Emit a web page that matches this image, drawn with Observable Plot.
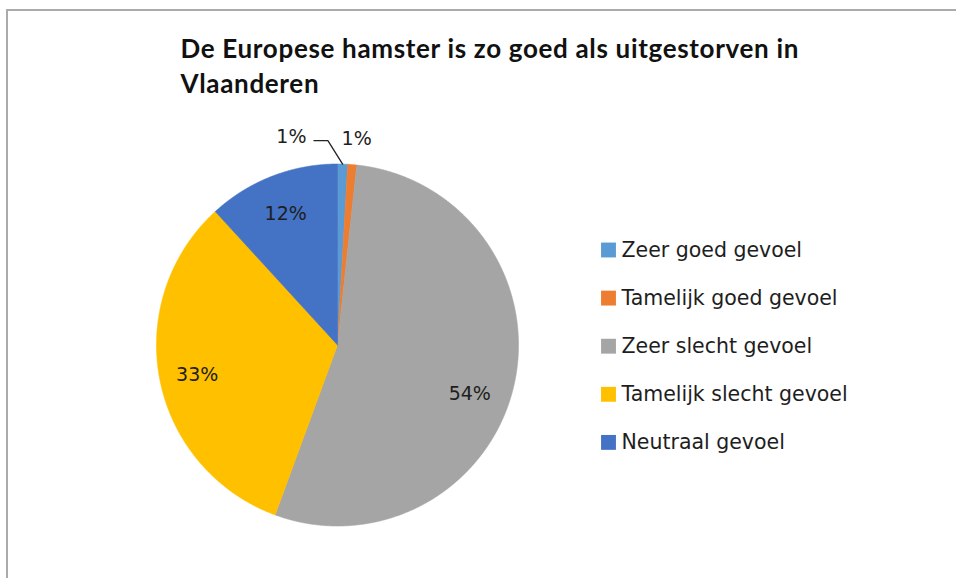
<!DOCTYPE html>
<html><head><meta charset="utf-8">
<script src="https://cdn.jsdelivr.net/npm/d3@7"></script>
<script src="https://cdn.jsdelivr.net/npm/@observablehq/plot@0.6"></script>
<style>
html,body{margin:0;padding:0;background:#fff;overflow:hidden;width:956px;height:578px;}
#frame{position:absolute;left:6px;top:9px;width:1200px;height:900px;border:2px solid #ababab;box-sizing:border-box;}
#chart{position:absolute;left:0;top:0;}
</style></head><body>
<div id="frame"></div>
<div id="chart"></div>
<script>
const categories = ["Zeer goed gevoel", "Tamelijk goed gevoel", "Zeer slecht gevoel", "Tamelijk slecht gevoel", "Neutraal gevoel"];
const values = [0.9, 0.8, 53.9, 32.6, 11.8];
const colors = ["#5B9BD5", "#ED7D31", "#A5A5A5", "#FFC000", "#4472C4"];
const titleLines = ["De Europese hamster is zo goed als uitgestorven in", "Vlaanderen"];

const total = d3.sum(values);
const arcs = d3.pie().sort(null).value(d => d.value)(categories.map((name, i) => ({name, value: values[i]})));

// slice outlines in unit-circle coordinates (angle clockwise from 12 o'clock)
const slicePts = [];
for (const p of arcs) {
  slicePts.push({name: p.data.name, x: 0, y: 0});
  const n = Math.max(2, Math.ceil((p.endAngle - p.startAngle) / 0.004));
  for (let k = 0; k <= n; k++) {
    const a = p.startAngle + (p.endAngle - p.startAngle) * k / n;
    slicePts.push({name: p.data.name, x: Math.sin(a), y: Math.cos(a)});
  }
  slicePts.push({name: p.data.name, x: 0, y: 0});
}
const lab = (p, r) => {
  const a = (p.startAngle + p.endAngle) / 2;
  return {name: p.data.name, x: r * Math.sin(a), y: r * Math.cos(a), text: Math.round(p.data.value / total * 100) + "%"};
};
const big = arcs.filter(p => p.data.value / total >= 0.05);
const small = arcs.filter(p => p.data.value / total < 0.05);
const inner = big.filter(p => p !== arcs[2]).map(p => lab(p, 0.79));
const largest = [lab(arcs[2], 0.79)];
const smallFirst = [lab(small[0], 1.16)];
const smallRest = small.slice(1).map(p => lab(p, 1.16));
const m0 = (small[0].startAngle + small[0].endAngle) / 2;
const e = {x: Math.sin(m0) * 1.13 - 0.085, y: Math.cos(m0) * 1.13};
const leader = [
  {x: Math.sin(m0), y: Math.cos(m0)},
  e,
  {x: e.x - 0.077, y: e.y}
];

const txt = "#1e1e1e";
const marks = [
  Plot.line(slicePts, {x: "x", y: "y", z: "name", fill: "name", stroke: "name", strokeWidth: 0.6, curve: "linear"}),
  Plot.text(inner, {x: "x", y: "y", text: "text", fontSize: 19, fill: txt, dy: 2}),
  Plot.text(largest, {x: "x", y: "y", text: "text", fontSize: 19, fill: txt, dx: -7, dy: 16}),
  Plot.text(smallFirst, {x: "x", y: "y", text: "text", fontSize: 19, fill: txt, dx: -52, dy: 2}),
  Plot.text(smallRest, {x: "x", y: "y", text: "text", fontSize: 19, fill: txt, dx: 2, dy: 3}),
  Plot.line(leader, {x: "x", y: "y", stroke: "#222", strokeWidth: 1.3}),
  Plot.text([titleLines.join("\n")], {frameAnchor: "top-left", dx: 180, dy: 33, textAnchor: "start", lineAnchor: "top", fontSize: 26, fontWeight: "bold", lineHeight: 1.33, fill: "#111", fontFamily: "Lato"})
];
categories.forEach((c, i) => {
  marks.push(Plot.dot([c], {frameAnchor: "top-left", dx: 608, dy: 249.5 + i * 48.1, fill: d => d, symbol: "square", r: 8.4}));
  marks.push(Plot.text([c], {frameAnchor: "top-left", dx: 621, dy: 249.5 + i * 48.1, text: d => d, textAnchor: "start", lineAnchor: "middle", fontSize: 20.5, fill: txt}));
});

const chart = Plot.plot({
  width: 956,
  height: 578,
  margin: 0,
  x: {domain: [-1, 1], range: [156, 518], axis: null},
  y: {domain: [-1, 1], range: [525.5, 163.5], axis: null},
  color: {domain: categories, range: colors},
  style: {background: "transparent", fontFamily: "DejaVu Sans"},
  marks
});
d3.select(chart).selectAll("text")
  .filter(function() { return this.textContent.startsWith(titleLines[0]); })
  .style("letter-spacing", "0.67px");
document.getElementById("chart").appendChild(chart);
</script>
</body></html>
